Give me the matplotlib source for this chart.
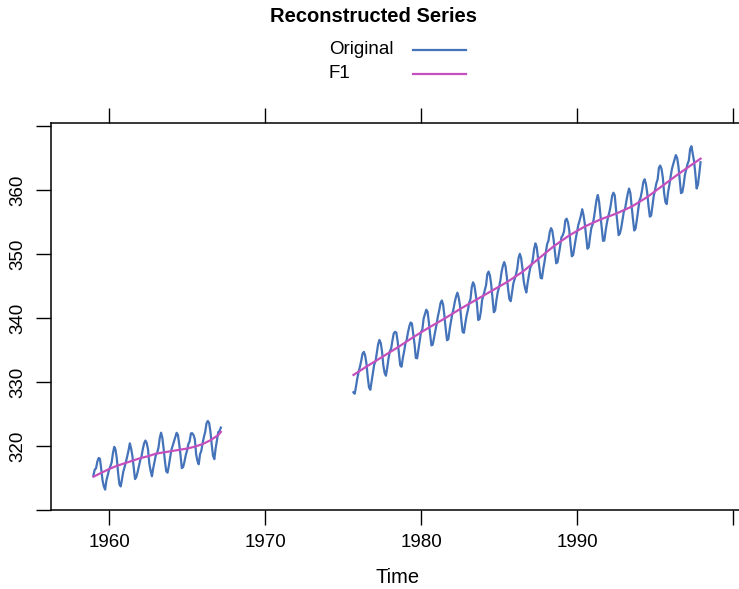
import numpy as np
import matplotlib
matplotlib.use("Agg")
import matplotlib.pyplot as plt

# monthly CO2 (ppm), first block Jan 1959 - Mar 1967
co2_a_start = 1959.0
co2_a = [
    315.42, 316.31, 316.50, 317.56, 318.13, 318.00, 316.39, 314.65, 313.68, 313.18, 314.66, 315.43,
    316.27, 316.81, 317.42, 318.87, 319.87, 319.43, 318.01, 315.74, 314.00, 313.68, 314.84, 316.03,
    316.73, 317.54, 318.38, 319.31, 320.42, 319.61, 318.42, 316.63, 314.83, 315.16, 315.94, 316.85,
    317.78, 318.40, 319.53, 320.42, 320.85, 320.45, 319.45, 317.25, 316.11, 315.27, 316.53, 317.53,
    318.58, 318.92, 319.70, 321.22, 322.08, 321.31, 319.58, 317.61, 316.05, 315.83, 316.91, 318.20,
    319.41, 320.07, 320.74, 321.40, 322.06, 321.73, 320.27, 318.54, 316.54, 316.71, 317.53, 318.55,
    319.27, 320.28, 320.73, 321.97, 322.00, 321.71, 321.05, 318.71, 317.66, 317.14, 318.70, 319.25,
    320.46, 321.43, 322.23, 323.54, 323.91, 323.59, 322.24, 320.20, 318.48, 317.94, 319.63, 320.87,
    322.17, 322.34, 322.88,
]

# second block Sep 1975 - Dec 1997
co2_b_start = 1975 + 8 / 12
co2_b = [
    328.40, 328.17, 329.32, 330.59,
    331.58, 332.39, 333.33, 334.41, 334.71, 334.17, 332.89, 330.77, 329.14, 328.78, 330.14, 331.52,
    332.75, 333.24, 334.53, 335.90, 336.57, 336.10, 334.76, 332.59, 331.42, 330.98, 332.24, 333.68,
    334.80, 335.22, 336.47, 337.59, 337.84, 337.72, 336.37, 334.51, 332.60, 332.38, 333.75, 334.78,
    336.05, 336.59, 337.79, 338.71, 339.30, 339.12, 337.56, 335.92, 333.75, 333.70, 335.12, 336.56,
    337.84, 338.19, 339.91, 340.60, 341.29, 341.00, 339.39, 337.43, 335.72, 335.84, 336.93, 338.04,
    339.06, 340.30, 341.21, 342.33, 342.74, 342.08, 340.32, 338.26, 336.52, 336.68, 338.19, 339.44,
    340.57, 341.44, 342.53, 343.39, 343.96, 343.18, 341.88, 339.65, 337.81, 337.69, 339.09, 340.32,
    341.20, 342.35, 342.93, 344.77, 345.58, 345.14, 343.81, 342.21, 339.69, 339.82, 340.98, 342.82,
    343.52, 344.33, 345.11, 346.88, 347.25, 346.62, 345.22, 343.11, 340.90, 341.18, 342.80, 344.04,
    344.79, 345.82, 347.25, 348.17, 348.74, 348.07, 346.38, 344.51, 342.92, 342.62, 344.06, 345.38,
    346.11, 346.78, 347.68, 349.37, 350.03, 349.37, 347.76, 345.73, 344.68, 343.99, 345.48, 346.72,
    347.84, 348.29, 349.23, 350.80, 351.66, 351.07, 349.33, 347.92, 346.27, 346.18, 347.64, 348.78,
    350.25, 351.54, 352.05, 353.41, 354.04, 353.62, 352.22, 350.27, 348.55, 348.72, 349.91, 351.18,
    352.60, 352.92, 353.53, 355.26, 355.52, 354.97, 353.75, 351.52, 349.64, 349.83, 351.14, 352.37,
    353.50, 354.55, 355.23, 356.04, 357.00, 356.07, 354.67, 352.76, 350.82, 351.04, 352.69, 354.07,
    354.59, 355.63, 357.03, 358.48, 359.22, 358.12, 356.06, 353.92, 352.05, 352.11, 353.64, 354.89,
    355.88, 356.63, 357.72, 359.07, 359.58, 359.17, 356.94, 354.92, 352.94, 353.23, 354.09, 355.33,
    356.63, 357.10, 358.32, 359.41, 360.23, 359.55, 357.53, 355.48, 353.67, 353.95, 355.30, 356.78,
    358.34, 358.89, 359.95, 361.25, 361.67, 360.94, 359.55, 357.49, 355.84, 356.00, 357.59, 359.05,
    359.98, 361.03, 361.66, 363.48, 363.82, 363.30, 361.94, 359.50, 358.11, 357.80, 359.61, 360.74,
    362.09, 363.29, 364.06, 364.76, 365.45, 365.01, 363.70, 361.54, 359.51, 359.65, 360.80, 362.38,
    363.23, 364.06, 364.61, 366.40, 366.84, 365.68, 364.52, 362.57, 360.24, 360.83, 362.49, 364.34,
]

# first reconstructed component (trend), sampled twice a year
f1_a_time = [1959.0, 1959.5, 1960.0, 1960.5, 1961.0, 1961.5, 1962.0, 1962.5, 1963.0,
             1963.5, 1964.0, 1964.5, 1965.0, 1965.5, 1966.0, 1966.5, 1967.0, 1967.17]
f1_a = [315.2, 315.8, 316.4, 316.9, 317.3, 317.7, 318.1, 318.4, 318.8,
        319.0, 319.2, 319.4, 319.6, 319.9, 320.3, 320.9, 321.7, 322.2]

f1_b_time = [1975.67, 1976.5, 1977.5, 1978.5, 1979.5, 1980.5, 1981.5, 1982.5, 1983.5,
             1984.5, 1985.5, 1986.5, 1987.5, 1988.5, 1989.5, 1990.5, 1991.5, 1992.5,
             1993.5, 1994.5, 1995.5, 1996.5, 1997.5, 1997.92]
f1_b = [331.1, 332.4, 333.9, 335.4, 337.0, 338.5, 339.9, 341.4, 342.8,
        344.2, 345.6, 347.2, 349.2, 351.2, 352.9, 354.3, 355.4, 356.3,
        357.4, 358.9, 360.7, 362.5, 364.2, 364.9]

x_ticks = [1960, 1970, 1980, 1990, 2000]
x_tick_labels = ["1960", "1970", "1980", "1990", ""]
y_ticks = [310, 320, 330, 340, 350, 360, 370]
y_tick_labels = ["", "320", "330", "340", "350", "360", ""]

col_orig = "#4473BA"
col_f1 = "#C64FBE"

plt.rcParams["font.family"] = ["Liberation Sans", "DejaVu Sans"]

W, H = 739, 589
fig = plt.figure(figsize=(W / 100, H / 100), dpi=100)

# panel runs past the right edge of the canvas
left, right, top, bottom = 51, 745, 123, 510
ax = fig.add_axes([left / W, 1 - bottom / H, (right - left) / W, (bottom - top) / H])

t_a = co2_a_start + np.arange(len(co2_a)) / 12
t_b = co2_b_start + np.arange(len(co2_b)) / 12
ax.plot(t_a, co2_a, color=col_orig, lw=1.6, solid_joinstyle="round")
ax.plot(t_b, co2_b, color=col_orig, lw=1.6, solid_joinstyle="round")
ax.plot(f1_a_time, f1_a, color=col_f1, lw=1.6)
ax.plot(f1_b_time, f1_b, color=col_f1, lw=1.6)

ax.set_xlim(1956.28, 1956.28 + (right - left) / 15.6)
ax.set_ylim(310.0, 310.0 + (bottom - top) / 6.4)

for s in ax.spines.values():
    s.set_linewidth(1.1)

ax.set_xticks(x_ticks)
ax.set_xticklabels(x_tick_labels)
ax.set_yticks(y_ticks)
ax.set_yticklabels(y_tick_labels, rotation=90, va="center")
ax.tick_params(axis="both", direction="out", length=10.5, width=1.0, labelsize=13.5, pad=7)
ax.tick_params(axis="x", top=True, labeltop=False)

ax.set_xlabel("Time", fontsize=14.5, labelpad=12)

fig.text(373 / W, 1 - 17 / H, "Reconstructed Series", ha="center", va="center",
         fontsize=14.5, fontweight="bold")
legend_rows = [("Original", col_orig, 50), ("F1", col_f1, 74)]
for label, col, yy in legend_rows:
    fig.text(329 / W, 1 - yy / H, label, ha="left", va="center", fontsize=13.5)
    fig.add_artist(plt.Line2D([413 / W, 466 / W], [1 - yy / H, 1 - yy / H],
                              color=col, lw=1.6, transform=fig.transFigure))

fig.savefig("out.png", dpi=100)
